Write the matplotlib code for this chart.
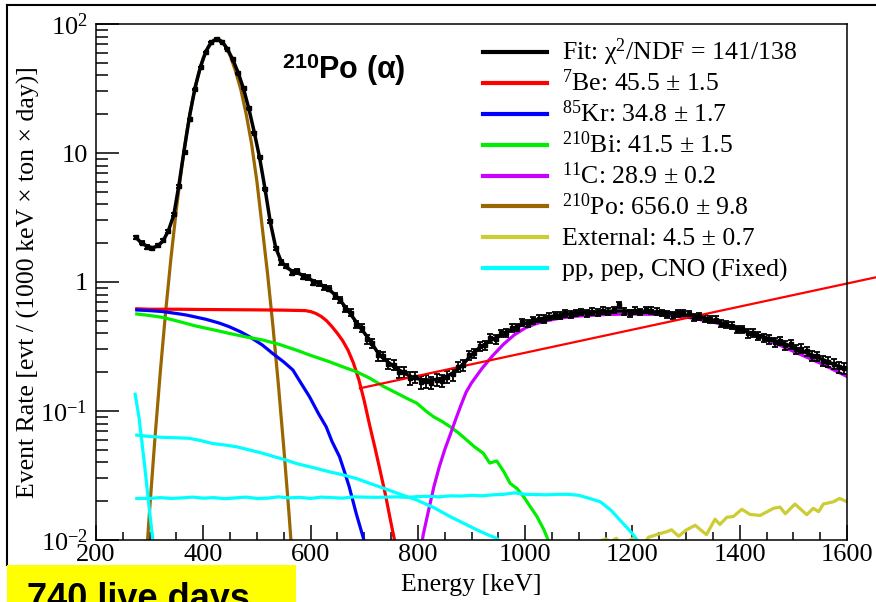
import numpy as np
import matplotlib.pyplot as plt
from matplotlib.lines import Line2D
from matplotlib.patches import Rectangle
from matplotlib.ticker import MultipleLocator, LogLocator, NullFormatter

plt.rcParams['font.family'] = ['Liberation Serif', 'DejaVu Serif']
plt.rcParams['mathtext.fontset'] = 'custom'
plt.rcParams['mathtext.rm'] = 'Liberation Serif'
plt.rcParams['mathtext.it'] = 'Liberation Serif:italic'
plt.rcParams['mathtext.bf'] = 'Liberation Sans:bold'

# ---- data: 10 keV bins, measured rate
bin_e = np.arange(275, 1600, 10)
data_v = [2.22, 2.02, 1.88, 1.82, 1.92, 2.1, 2.48, 3.35, 5.5, 10.1,
          18.3, 31.2, 46.5, 60.5, 72.5, 76.8, 72.6, 64.5, 53.4, 41.6,
          31.8, 22.2, 14.4, 9.3, 5.25, 2.95, 1.82, 1.42, 1.33, 1.18,
          1.21, 1.1, 1.09, 0.99, 0.98, 0.91, 0.89, 0.78, 0.73, 0.62,
          0.58, 0.47, 0.44, 0.36, 0.335, 0.27, 0.265, 0.232, 0.228, 0.2,
          0.2, 0.18, 0.183, 0.168, 0.171, 0.166, 0.175, 0.172, 0.185, 0.192,
          0.22, 0.228, 0.27, 0.28, 0.318, 0.325, 0.365, 0.36, 0.4, 0.405,
          0.44, 0.445, 0.49, 0.478, 0.505, 0.52, 0.518, 0.54, 0.55, 0.548,
          0.57, 0.56, 0.575, 0.585, 0.572, 0.59, 0.578, 0.6, 0.59, 0.61,
          0.66, 0.59, 0.575, 0.6, 0.585, 0.61, 0.6, 0.59, 0.578, 0.56,
          0.552, 0.57, 0.575, 0.56, 0.535, 0.545, 0.52, 0.515, 0.51, 0.475,
          0.47, 0.46, 0.43, 0.43, 0.4, 0.405, 0.38, 0.37, 0.36, 0.34,
          0.35, 0.325, 0.33, 0.3, 0.305, 0.29, 0.268, 0.265, 0.245, 0.24,
          0.232, 0.218, 0.215]
data_err = [.067, .064, .062, .061, .062, .065, .071, .082, .106, .143,
            .19, .25, .31, .35, .38, .40, .39, .36, .33, .29,
            .26, .21, .17, .14, .10, .077, .061, .054, .052, .049,
            .049, .047, .047, .045, .044, .043, .042, .04, .038, .036,
            .034, .032, .03, .028, .026, .024, .023, .022, .021, .021,
            .02, .02, .019, .019, .019, .019, .019, .019, .02, .02,
            .021, .022, .023, .024, .025, .026, .027, .027, .028, .029,
            .03, .03, .031, .031, .032, .032, .033, .033, .033, .034,
            .034, .034, .034, .035, .035, .035, .035, .035, .035, .035,
            .035, .035, .035, .035, .035, .035, .035, .035, .034, .034,
            .034, .034, .034, .033, .033, .033, .033, .032, .032, .031,
            .031, .03, .03, .029, .029, .029, .028, .028, .027, .027,
            .026, .026, .026, .025, .025, .024, .024, .023, .023, .022,
            .022, .021, .021]
fit_v = [2.2, 2.0, 1.9, 1.84, 1.9, 2.08, 2.5, 3.3, 5.8, 11.0,
         20.0, 32.5, 47, 61.5, 72, 76.5, 73, 64, 53, 42,
         31.5, 22, 14.5, 9.2, 5.3, 2.9, 1.85, 1.45, 1.3, 1.22,
         1.18, 1.13, 1.07, 1.02, 0.97, 0.93, 0.87, 0.80, 0.72, 0.64,
         0.56, 0.49, 0.43, 0.38, 0.33, 0.285, 0.258, 0.238, 0.222, 0.208,
         0.196, 0.187, 0.18, 0.176, 0.174, 0.174, 0.176, 0.18, 0.187, 0.197,
         0.212, 0.232, 0.258, 0.285, 0.31, 0.33, 0.35, 0.37, 0.39, 0.41,
         0.43, 0.45, 0.468, 0.485, 0.50, 0.513, 0.525, 0.536, 0.546, 0.555,
         0.562, 0.568, 0.573, 0.577, 0.581, 0.585, 0.588, 0.591, 0.593, 0.595,
         0.596, 0.597, 0.597, 0.596, 0.594, 0.591, 0.588, 0.584, 0.58, 0.575,
         0.57, 0.564, 0.557, 0.55, 0.542, 0.534, 0.525, 0.512, 0.498, 0.483,
         0.467, 0.452, 0.437, 0.423, 0.41, 0.397, 0.385, 0.374, 0.363, 0.352,
         0.341, 0.33, 0.318, 0.306, 0.294, 0.282, 0.271, 0.26, 0.25, 0.24,
         0.23, 0.221, 0.212]

# ---- fit components
po_e = np.arange(290, 571, 10)
po_v = [0.00425, 0.0172, 0.0625, 0.204, 0.598, 1.57, 3.72, 7.89, 15.1, 25.8,
        39.6, 54.7, 67.8, 75.5, 75.7, 68.9, 57.1, 43.2, 31, 20,
        11.8, 6.0, 2.63, 1.14, 0.447, 0.16, 0.0522, 0.0156, 0.0042]

be_e = [276, 300, 350, 400, 450, 500, 550, 590, 600, 610, 620, 630, 640,
        650, 660, 670, 680, 690, 700, 710, 720, 730, 740, 750, 760]
be_v = [0.62, 0.615, 0.615, 0.612, 0.61, 0.608, 0.605, 0.6, 0.59, 0.57, 0.54, 0.5, 0.45,
        0.4, 0.35, 0.295, 0.235, 0.175, 0.12, 0.078, 0.052, 0.034, 0.022, 0.0135, 0.0085]
be_line_e = [692, 1655]
be_line_v = [0.15, 1.09]

kr_e = [276, 300, 324, 350, 368, 405, 430, 448, 470, 486, 510, 529, 550,
        567, 580, 598, 615, 629, 640, 654, 663, 672, 685, 698, 705]
kr_v = [0.607, 0.6, 0.59, 0.57, 0.555, 0.514, 0.48, 0.451, 0.41, 0.377, 0.325, 0.28, 0.24,
        0.208, 0.17, 0.129, 0.095, 0.0756, 0.058, 0.0442, 0.034, 0.0259, 0.0161, 0.0105, 0.008]

bi_e = [276, 300, 324, 350, 386, 420, 448, 480, 511, 540, 573, 600, 635, 660, 685,
        710, 736, 760, 780, 798, 815, 829, 845, 860, 875, 891, 905, 922, 934, 947,
        960, 972, 985, 997, 1010, 1022, 1035, 1045]
bi_v = [0.565, 0.55, 0.532, 0.5, 0.456, 0.425, 0.40, 0.375, 0.355, 0.33, 0.297, 0.27, 0.241, 0.22, 0.202,
        0.18, 0.155, 0.138, 0.125, 0.115, 0.10, 0.0904, 0.083, 0.0756, 0.068, 0.0596, 0.053, 0.047, 0.0395, 0.041,
        0.034, 0.0275, 0.025, 0.0217, 0.018, 0.0152, 0.012, 0.0095]

c11_e = [800, 810, 820, 830, 840, 850, 860, 870, 880, 890, 900, 920, 940, 960, 980, 1000,
         1020, 1040, 1060, 1080, 1100, 1150, 1200, 1250, 1300, 1350, 1400, 1450, 1500, 1550, 1600]
c11_v = [0.006, 0.011, 0.017, 0.026, 0.037, 0.05, 0.065, 0.085, 0.11, 0.14, 0.165, 0.215, 0.27, 0.33, 0.39, 0.44,
         0.475, 0.5, 0.52, 0.535, 0.545, 0.56, 0.565, 0.56, 0.535, 0.49, 0.43, 0.36, 0.29, 0.235, 0.185]

ext_e = [1140, 1150, 1160, 1170, 1180, 1200, 1210, 1225, 1230, 1245, 1264, 1273, 1286, 1301, 1317, 1338, 1354,
         1363, 1376, 1388, 1404, 1419, 1438, 1463, 1475, 1485, 1503, 1525, 1537, 1547, 1556, 1575, 1586, 1600]
ext_v = [0.0098, 0.0102, 0.0097, 0.0103, 0.009, 0.0103, 0.009, 0.0098, 0.0105, 0.011, 0.0116, 0.012, 0.0107,
         0.012, 0.013, 0.011, 0.0145, 0.0132, 0.015, 0.0152, 0.0173, 0.0158, 0.0155, 0.0176, 0.018, 0.016, 0.019,
         0.0157, 0.0176, 0.0166, 0.019, 0.0198, 0.021, 0.0198]

pep_e = [276, 300, 320, 340, 360, 380, 400, 420, 440, 460, 480, 500, 520, 540, 560, 580, 600, 620, 640, 660,
         680, 700, 720, 740, 760, 780, 800, 820, 840, 860, 880, 900, 920, 940, 960, 980, 1000, 1020, 1040,
         1060, 1080, 1100, 1120, 1140, 1160, 1180, 1200, 1215]
pep_v = [0.021, 0.021, 0.0213, 0.021, 0.0212, 0.0215, 0.0211, 0.0213, 0.0209, 0.0212,
         0.0215, 0.021, 0.0211, 0.0216, 0.0212, 0.0214, 0.021, 0.0215, 0.0213, 0.0211,
         0.0216, 0.0215, 0.0214, 0.0215, 0.0216, 0.0214, 0.0217, 0.0218, 0.0216, 0.022,
         0.0219, 0.0222, 0.022, 0.0224, 0.0226, 0.0232, 0.0226, 0.0225, 0.0224, 0.0226,
         0.0226, 0.0222, 0.021, 0.0198, 0.017, 0.0138, 0.0112, 0.0092]
cno_e = [276, 300, 324, 350, 374, 395, 417, 440, 461, 485, 511, 530, 554, 575, 598,
         615, 635, 660, 685, 710, 736, 765, 798, 830, 860, 885, 910, 930, 947, 960]
cno_v = [0.065, 0.0635, 0.0625, 0.062, 0.0614, 0.059, 0.056, 0.0545, 0.0529, 0.05,
         0.047, 0.0445, 0.0417, 0.039, 0.037, 0.0355, 0.0338, 0.032, 0.030, 0.0275,
         0.0252, 0.0228, 0.0204, 0.0178, 0.0152, 0.0135, 0.012, 0.011, 0.0103, 0.0092]
pp_e = [273, 280, 290, 300, 306, 312]
pp_v = [0.135, 0.09, 0.04, 0.0165, 0.01, 0.0065]

leg_labels = ['Fit: \u03c7$^{2}$/NDF = 141/138',
              '$^{7}$Be: 45.5 \u00b1 1.5',
              '$^{85}$Kr: 34.8 \u00b1 1.7',
              '$^{210}$Bi: 41.5 \u00b1 1.5',
              '$^{11}$C: 28.9 \u00b1 0.2',
              '$^{210}$Po: 656.0 \u00b1 9.8',
              'External: 4.5 \u00b1 0.7',
              'pp, pep, CNO (Fixed)']
c_fit, c_be, c_kr, c_bi = 'black', '#ff0000', '#0000ff', '#00ee00'
c_c11, c_po, c_ext, c_cy = '#cc00ff', '#996600', '#cccc33', '#00ffff'
leg_colors = [c_fit, c_be, c_kr, c_bi, c_c11, c_po, c_ext, c_cy]

W, H = 876, 602
fig = plt.figure(figsize=(W / 100, H / 100), dpi=100)
ax = fig.add_axes([96 / W, 1 - 540 / H, 751 / W, 516 / H])

lw = 2.3
ax.plot(po_e, po_v, color=c_po, lw=lw)
ax.plot(be_e, be_v, color=c_be, lw=lw)
ax.plot(kr_e, kr_v, color=c_kr, lw=lw)
ax.plot(bi_e, bi_v, color=c_bi, lw=lw)
ax.plot(c11_e, c11_v, color=c_c11, lw=lw)
ax.plot(ext_e, ext_v, color=c_ext, lw=lw)
ax.plot(pep_e, pep_v, color=c_cy, lw=lw)
ax.plot(cno_e, cno_v, color=c_cy, lw=lw)
ax.plot(pp_e, pp_v, color=c_cy, lw=lw)

ax.errorbar(bin_e, data_v, yerr=data_err, fmt='s', ms=2.8, color='k',
            ecolor='k', elinewidth=1.3, capsize=2.5, capthick=1.3)
ax.plot(bin_e, fit_v, color=c_fit, lw=2.5)
ax.plot(be_line_e, be_line_v, color=c_be, lw=1.6, clip_on=False)

ax.set_xlim(200, 1600)
ax.set_yscale('log')
ax.set_ylim(1e-2, 1e2)
ax.xaxis.set_major_locator(MultipleLocator(200))
ax.xaxis.set_minor_locator(MultipleLocator(50))
ax.set_yticks([1e-2, 1e-1, 1, 10, 100])
ax.set_yticklabels([r'$10^{-2}$', r'$10^{-1}$', '1', '10', r'$10^{2}$'])
ax.yaxis.set_minor_locator(LogLocator(base=10, subs=np.arange(2, 10)))
ax.yaxis.set_minor_formatter(NullFormatter())
ax.tick_params(which='both', direction='in', top=False, right=False, width=1.1)
ax.tick_params(axis='x', which='major', length=11, labelsize=19, pad=3)
ax.tick_params(axis='x', which='minor', length=6)
ax.tick_params(axis='y', which='major', length=16.5, labelsize=19, pad=6)
ax.tick_params(axis='y', which='minor', length=8.5)
for s in ax.spines.values():
    s.set_linewidth(1.1)

ax.set_xlabel('Energy [keV]', fontsize=18.5, labelpad=6)
ax.set_ylabel('Event Rate [evt / (1000 keV \u00d7 ton \u00d7 day)]', fontsize=18.5, labelpad=0)

# legend drawn row by row
for i, (lab, col) in enumerate(zip(leg_labels, leg_colors)):
    yc = 51.7 + 30.95 * i
    fig.add_artist(Line2D([483 / W, 547 / W], [1 - yc / H] * 2, color=col, lw=3))
    fig.text(562 / W, 1 - (yc + 8) / H, lab, fontsize=18.5, va='baseline')

fig.text(282 / W, 1 - 79 / H, '$^{\\mathbf{210}}$Po (\u03b1)', fontsize=22,
         fontweight='bold', family='Liberation Sans', va='baseline')

# slide frame and banner
fig.add_artist(Line2D([7 / W, 1], [1 - 5 / H] * 2, color='k', lw=1.5))
fig.add_artist(Line2D([7 / W, 7 / W], [1 - 5 / H, 1 - 565 / H], color='k', lw=1.5))
fig.add_artist(Rectangle((7 / W, 0), 289 / W, 37 / H, facecolor='#ffff00',
                         edgecolor='none', transform=fig.transFigure, zorder=10))
fig.text(27 / W, 1 - 609 / H, '740 live days', fontsize=26, fontweight='bold',
         family='Liberation Sans', va='baseline', zorder=11)

fig.savefig('out.png', dpi=100)
